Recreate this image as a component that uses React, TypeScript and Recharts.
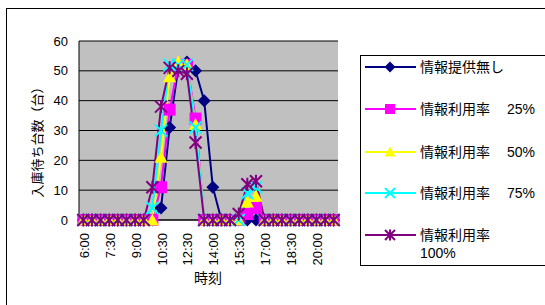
import React from "react";
import { CartesianGrid, Line, LineChart, XAxis, YAxis } from "recharts";

// 時刻 (12:00 is not in the source table)
const times = [
  "6:00", "6:30", "7:00", "7:30", "8:00", "8:30", "9:00", "9:30", "10:00", "10:30",
  "11:00", "11:30", "12:30", "13:00", "13:30", "14:00", "14:30", "15:00", "15:30", "16:00",
  "16:30", "17:00", "17:30", "18:00", "18:30", "19:00", "19:30", "20:00", "20:30", "21:00",
];

const noInfo = [0, 0, 0, 0, 0, 0, 0, 0, 0, 4, 31, 51, 53, 50, 40, 11, 0, 0, 0, 0, 0, 0, 0, 0, 0, 0, 0, 0, 0, 0];
const rate25 = [0, 0, 0, 0, 0, 0, 0, 0, 0, 11, 37, 52, 52, 34, 0, 0, 0, 0, 0, 2, 4, 0, 0, 0, 0, 0, 0, 0, 0, 0];
const rate50 = [0, 0, 0, 0, 0, 0, 0, 0, 0, 21, 48, 53, 52, 32, 0, 0, 0, 0, 0, 6, 8, 0, 0, 0, 0, 0, 0, 0, 0, 0];
const rate75 = [0, 0, 0, 0, 0, 0, 0, 0, 4, 30, 52, 52, 52, 31, 0, 0, 0, 0, 0, 9, 11, 0, 0, 0, 0, 0, 0, 0, 0, 0];
const rate100 = [0, 0, 0, 0, 0, 0, 0, 0, 11, 38, 51, 50, 49, 26, 0, 0, 0, 0, 2, 12, 13, 0, 0, 0, 0, 0, 0, 0, 0, 0];

const yTicks = [0, 10, 20, 30, 40, 50, 60];

type Kind = "diamond" | "square" | "triangle" | "x" | "star";

const series: { key: string; name: string; suffix?: string; color: string; kind: Kind; values: number[] }[] = [
  { key: "noInfo", name: "情報提供無し", color: "#000080", kind: "diamond", values: noInfo },
  { key: "rate25", name: "情報利用率", suffix: "25%", color: "#FF00FF", kind: "square", values: rate25 },
  { key: "rate50", name: "情報利用率", suffix: "50%", color: "#FFFF00", kind: "triangle", values: rate50 },
  { key: "rate75", name: "情報利用率", suffix: "75%", color: "#00FFFF", kind: "x", values: rate75 },
  { key: "rate100", name: "情報利用率", suffix: "100%", color: "#800080", kind: "star", values: rate100 },
];

const data = times.map((time, i) => {
  const row: Record<string, string | number> = { time };
  series.forEach((s) => (row[s.key] = s.values[i]));
  return row;
});

const FONT = '"Liberation Sans", "Noto Sans CJK JP", sans-serif';

function shape(kind: Kind, color: string, cx: number, cy: number, r = 6) {
  switch (kind) {
    case "diamond":
      return <polygon points={`${cx},${cy - r} ${cx + r},${cy} ${cx},${cy + r} ${cx - r},${cy}`} fill={color} />;
    case "square":
      return <rect x={cx - r + 0.5} y={cy - r + 0.5} width={2 * r - 1} height={2 * r - 1} fill={color} />;
    case "triangle":
      return <polygon points={`${cx},${cy - r} ${cx + r},${cy + r - 1} ${cx - r},${cy + r - 1}`} fill={color} />;
    case "x": {
      const h = r - 0.5;
      return (
        <path d={`M${cx - h},${cy - h}L${cx + h},${cy + h}M${cx + h},${cy - h}L${cx - h},${cy + h}`} stroke={color} strokeWidth={2} fill="none" />
      );
    }
    default: {
      const h = r - 0.5;
      return (
        <path
          d={`M${cx - h},${cy - h}L${cx + h},${cy + h}M${cx + h},${cy - h}L${cx - h},${cy + h}M${cx},${cy - r}L${cx},${cy + r}`}
          stroke={color}
          strokeWidth={2}
          fill="none"
        />
      );
    }
  }
}

const makeDot = (kind: Kind, color: string) => (props: any) => {
  const { cx, cy, index } = props;
  if (cx == null || cy == null) return <g key={index} />;
  return <g key={index}>{shape(kind, color, cx, cy, 6.5)}</g>;
};

const XTick = (props: any) => {
  const { x, y, payload } = props;
  return (
    <text
      x={x + 1}
      y={y}
      transform={`rotate(-90 ${x + 1} ${y})`}
      textAnchor="end"
      dominantBaseline="central"
      fontSize={13}
      fill="#000"
      fontFamily={FONT}
    >
      {payload.value}
    </text>
  );
};

const YTitle = () => (
  <text x={37} y={139} transform="rotate(-90 37 139)" textAnchor="middle" dominantBaseline="central" fontSize={13} fill="#000" fontFamily={FONT}>
    入庫待ち台数（台）
  </text>
);

const XTitle = () => (
  <text x={208} y={278} textAnchor="middle" dominantBaseline="central" fontSize={14} fill="#000" fontFamily={FONT}>
    時刻
  </text>
);

const legendRows = [66.7, 109.3, 151.7, 193.3, 235];

function LegendBox() {
  return (
    <div
      style={{
        position: "absolute",
        left: 360,
        top: 55,
        width: 190,
        height: 209,
        border: "1px solid #000",
        background: "#fff",
      }}
    >
      {series.map((s, i) => {
        const top = legendRows[i] - 55 - 1;
        return (
          <div key={s.key}>
            <svg style={{ position: "absolute", left: 4, top: top - 8 }} width={52} height={16}>
              <line x1={0} y1={8} x2={51} y2={8} stroke={s.color} strokeWidth={2} />
              {shape(s.kind, s.color, 25, 8, 5.5)}
            </svg>
            <div
              style={{
                position: "absolute",
                left: 59,
                top: top - 10,
                height: 20,
                lineHeight: "20px",
                fontSize: 14,
                fontFamily: FONT,
                whiteSpace: "nowrap",
                color: "#000",
              }}
            >
              {s.name}
            </div>
            {s.suffix && (
              <div
                style={{
                  position: "absolute",
                  left: i === 4 ? 59 : 146,
                  top: i === 4 ? top + 8 : top - 10,
                  height: 20,
                  lineHeight: "20px",
                  fontSize: 14,
                  fontFamily: FONT,
                  color: "#000",
                }}
              >
                {s.suffix}
              </div>
            )}
          </div>
        );
      })}
    </div>
  );
}

export default function App() {
  return (
    <div style={{ position: "absolute", left: 0, top: 0, width: 545, height: 305, overflow: "hidden", background: "#fff", fontFamily: FONT }}>
      <div style={{ position: "absolute", left: 6, top: 8, width: 560, height: 320, border: "1px solid #000" }} />
      <div style={{ position: "absolute", left: 0, top: 0 }}>
        <LineChart width={545} height={305} data={data} margin={{ top: 41, right: 207, bottom: 0, left: 0 }}>
          <CartesianGrid vertical={false} stroke="#000" fill="#C0C0C0" fillOpacity={1} />
          <XAxis
            dataKey="time"
            interval={2}
            padding={{ left: 4.3, right: 4.3 }}
            height={85}
            axisLine={{ stroke: "#000" }}
            tickLine={false}
            tickSize={0}
            tickMargin={13}
            tick={<XTick />}
            label={<XTitle />}
          />
          <XAxis xAxisId="top" orientation="top" dataKey="time" height={0} tick={false} tickLine={false} axisLine={{ stroke: "#808080", strokeWidth: 2 }} />
          <YAxis
            domain={[0, 60]}
            ticks={yTicks}
            interval={0}
            width={79}
            axisLine={{ stroke: "#000" }}
            tickLine={false}
            tickSize={0}
            tickMargin={11}
            tick={{ fill: "#000", fontSize: 13, fontFamily: FONT }}
            label={<YTitle />}
          />
          <YAxis yAxisId="right" orientation="right" width={0} domain={[0, 60]} tick={false} tickLine={false} axisLine={{ stroke: "#808080", strokeWidth: 2 }} />
          {series.map((s) => (
            <Line
              key={s.key}
              type="linear"
              dataKey={s.key}
              name={s.name}
              stroke={s.color}
              strokeWidth={2}
              dot={makeDot(s.kind, s.color)}
              activeDot={false}
              isAnimationActive={false}
            />
          ))}
        </LineChart>
      </div>
      <LegendBox />
    </div>
  );
}
